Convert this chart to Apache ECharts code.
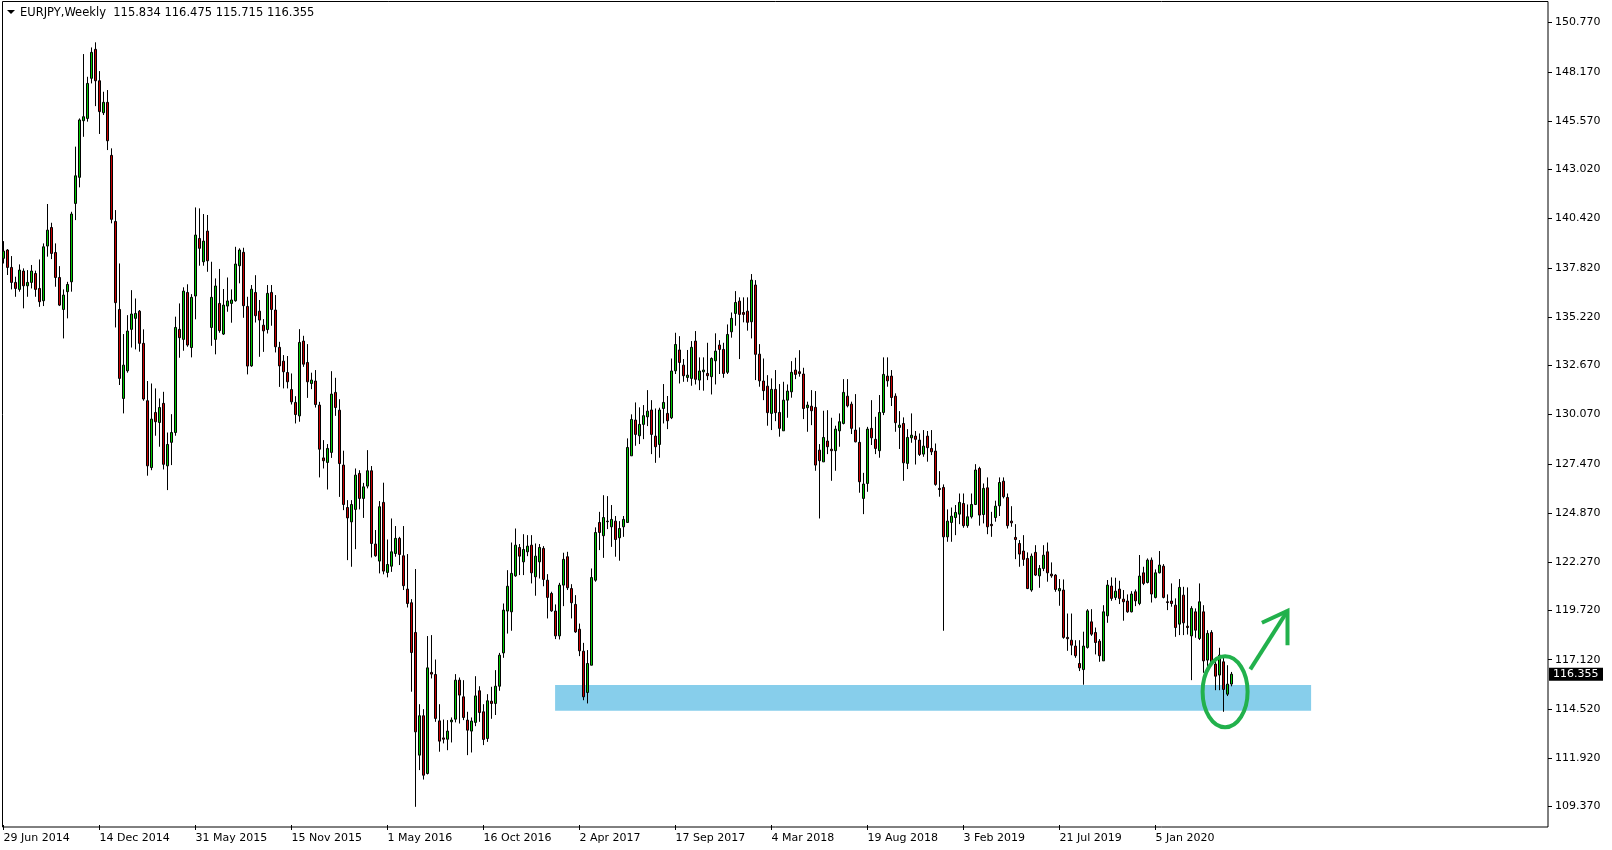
<!DOCTYPE html>
<html><head><meta charset="utf-8">
<script src="https://cdn.jsdelivr.net/npm/echarts@6/dist/echarts.min.js"></script>
<style>html,body{margin:0;padding:0;background:#fff;}#c{width:1612px;height:850px;}</style>
</head><body><div id="c"></div>
<script>
const symbolName = 'EURJPY';
const timeframe = 'Weekly';
const firstWeek = '2014-06-29';
const totalSlots = 386;
const xLabelEvery = 24;

const opens = [138.32,138.76,137.84,137.05,136.68,137.65,136.87,137.05,137.52,136.73,136.08,138.97,139.95,138.63,137.31,135.62,136.56,137.08,141.22,142.60,
145.59,145.71,147.83,149.36,147.70,146.01,146.56,143.76,140.27,135.62,130.92,132.38,134.57,135.15,135.53,133.83,130.80,127.27,130.18,129.65,
130.66,127.36,128.60,129.12,134.57,134.04,136.52,133.61,136.33,139.37,138.14,139.76,134.67,134.04,135.94,134.32,135.80,135.94,136.08,137.93,
138.64,135.78,132.64,136.52,135.53,134.79,134.56,136.52,135.59,133.62,132.89,132.29,131.39,130.71,130.00,133.95,132.82,131.71,131.84,130.57,
127.78,127.54,128.07,131.24,130.30,127.40,125.16,124.40,125.06,126.96,125.64,126.29,127.10,123.23,122.33,125.43,121.73,122.06,122.73,123.53,
122.61,120.85,120.13,118.56,112.08,114.16,111.11,116.45,116.34,113.89,112.99,112.92,113.84,113.98,116.04,115.16,113.93,113.35,113.81,115.48,
114.37,112.96,114.93,114.81,115.72,117.48,119.69,119.65,121.55,123.05,122.29,122.82,123.17,121.50,122.29,123.00,121.32,120.62,119.69,118.38,
121.06,122.56,120.88,120.04,118.73,117.57,115.39,116.83,121.32,124.37,123.67,124.41,124.14,124.44,123.56,124.14,124.37,127.89,129.78,128.95,
129.55,129.95,130.31,128.93,128.49,130.39,130.13,129.90,132.38,133.48,132.68,132.03,131.98,133.95,131.89,132.33,132.24,132.07,132.91,133.74,
133.51,132.30,134.44,135.41,136.06,135.46,135.53,134.97,136.91,133.26,131.84,131.57,130.13,131.40,130.18,129.21,130.83,131.27,132.42,132.33,
132.21,130.43,130.51,130.45,128.19,127.57,128.67,128.24,128.16,129.21,129.60,131.04,130.62,129.25,128.60,125.64,126.43,129.34,128.76,128.16,
130.18,132.10,132.10,131.04,129.39,129.60,127.49,128.84,128.93,128.72,127.98,128.93,128.28,128.14,126.17,126.22,123.61,124.37,124.63,124.81,
125.37,124.20,124.67,125.32,127.22,124.79,126.20,124.27,124.63,125.25,126.55,125.69,124.44,123.58,123.26,122.86,122.47,120.80,122.79,121.55,
121.94,122.82,121.64,121.59,120.76,120.80,118.30,118.15,117.84,116.92,116.60,117.77,119.12,118.56,118.10,117.06,119.44,121.01,120.41,120.85,
120.32,120.22,119.65,120.71,120.09,121.71,121.20,122.38,120.41,121.71,122.06,120.18,120.22,120.00,119.00,120.53,118.89,118.38,119.65,118.24,
119.65,117.10,118.56,116.89,116.31,117.01,115.30,115.834];
const highs = [139.23,138.81,138.44,137.35,138.00,137.79,137.70,137.97,137.67,138.26,139.11,141.19,140.20,139.11,137.91,136.68,137.08,140.78,144.22,145.71,
149.11,147.91,149.46,149.73,148.21,147.12,147.21,144.13,140.87,138.05,134.32,135.32,136.64,136.20,135.59,134.57,131.84,131.71,131.45,130.92,
131.27,129.12,130.09,135.24,135.94,136.79,136.95,136.43,141.01,140.96,140.66,140.61,138.14,137.26,137.76,136.70,137.31,136.68,138.93,138.85,
138.88,136.29,136.91,137.43,136.12,135.11,136.91,136.91,136.38,133.91,133.21,133.16,132.24,131.04,134.58,134.23,133.79,132.28,132.42,130.74,
128.72,128.51,132.36,132.01,130.88,128.16,125.55,125.55,127.22,127.13,126.46,128.19,127.35,123.97,125.50,126.47,123.47,124.58,124.18,123.61,
124.18,122.70,120.32,121.91,114.77,114.51,118.37,118.42,117.13,114.77,113.96,113.93,114.07,116.36,116.18,116.04,114.37,114.07,116.25,115.72,
114.77,115.30,115.69,116.57,117.48,120.09,121.85,123.31,124.05,123.23,123.75,123.70,123.70,123.26,123.23,123.12,121.64,120.71,120.04,121.18,
122.77,122.82,121.11,120.53,119.03,118.01,117.63,121.94,124.11,124.93,125.81,125.76,125.29,124.71,124.44,124.71,128.81,130.08,130.71,130.45,
130.57,131.36,130.83,130.39,130.43,131.68,131.05,133.03,134.39,134.21,133.00,133.48,133.95,134.48,133.09,133.09,133.86,133.09,134.36,134.00,
133.86,134.83,135.46,136.59,136.26,136.26,136.26,137.49,137.17,133.79,133.03,132.15,131.98,132.42,131.68,131.80,131.66,132.89,133.07,133.47,
132.54,130.75,131.36,131.31,128.51,130.27,130.30,129.90,129.48,130.13,131.94,131.94,130.75,131.15,129.39,126.99,129.42,130.83,129.95,131.10,
133.09,133.09,132.42,131.19,130.25,129.92,129.30,130.13,129.20,129.07,129.25,129.20,129.25,128.54,127.08,126.38,125.06,125.16,125.29,125.90,
125.90,125.32,125.90,127.45,127.31,126.43,126.75,124.93,125.52,126.75,126.75,125.90,125.23,124.28,123.44,123.70,122.79,122.73,123.17,122.12,
123.17,123.31,122.26,121.64,121.38,121.36,119.56,119.56,118.15,118.15,118.60,119.79,119.79,118.82,118.21,120.00,121.33,121.47,121.45,121.29,
120.80,120.57,120.74,120.83,122.65,122.03,122.47,122.52,121.89,122.86,122.17,120.57,121.15,120.36,121.38,120.97,120.94,119.95,119.83,121.15,
120.00,118.68,118.68,117.22,117.75,117.27,116.83,116.475];
const lows = [138.05,137.44,136.68,136.29,136.56,135.68,136.29,136.73,136.29,135.76,135.80,138.41,138.28,136.82,135.80,134.09,135.15,136.56,140.34,142.07,
144.74,145.54,147.56,146.36,144.89,145.89,144.04,140.17,134.67,131.63,130.13,132.28,133.61,133.51,133.39,130.80,126.84,127.13,128.95,128.37,
127.17,126.08,127.40,128.95,133.07,133.44,133.65,133.09,135.10,137.93,137.93,137.61,133.70,133.25,134.39,134.27,135.50,134.92,136.03,137.00,
135.18,132.19,132.59,134.93,133.12,133.38,134.35,134.76,133.35,131.53,131.45,131.45,130.60,129.60,129.69,132.59,130.95,131.41,130.44,126.75,
127.22,126.11,127.78,130.00,125.72,125.02,122.38,122.03,122.96,125.06,124.61,126.17,122.52,122.56,121.68,121.63,121.47,121.76,122.56,122.12,
120.80,119.88,115.43,109.35,111.29,110.79,111.06,116.13,113.84,112.26,112.70,112.34,112.75,113.81,113.75,113.93,112.08,112.22,113.61,113.84,
112.61,112.78,114.00,114.20,115.48,117.22,118.50,118.65,121.50,121.59,121.59,122.59,121.15,120.50,121.41,121.00,119.30,119.65,118.21,118.19,
119.95,120.80,119.30,118.54,117.31,114.98,114.81,116.83,121.24,122.91,122.50,124.02,123.08,122.56,122.35,123.61,124.37,127.89,128.42,128.51,
128.77,129.46,127.98,127.52,127.79,129.60,129.30,129.83,132.21,131.71,131.80,131.80,131.59,131.66,131.36,131.33,131.89,131.13,131.66,132.21,
132.01,132.21,134.13,134.76,133.00,134.94,134.50,134.09,131.89,131.54,130.83,129.48,129.25,129.72,128.90,129.21,129.90,130.96,131.94,132.07,
129.83,129.16,129.51,127.10,124.58,127.57,127.98,126.57,127.10,128.37,129.55,130.45,129.04,128.60,125.94,124.81,125.99,128.46,127.98,127.79,
130.04,131.54,130.52,129.16,128.25,126.57,127.19,128.58,127.43,127.88,127.84,127.58,127.93,126.31,125.73,118.65,123.35,123.35,123.70,124.28,
124.09,124.09,124.58,125.29,124.20,124.32,123.75,123.61,124.41,124.71,125.64,124.05,124.14,122.43,122.03,122.08,120.85,120.71,121.54,120.92,
121.80,121.24,121.45,120.71,119.97,118.23,117.59,117.36,117.22,116.52,115.80,117.71,118.38,117.40,117.01,117.06,119.07,120.23,120.27,120.06,
119.18,119.60,119.62,119.95,120.00,121.06,121.15,120.14,120.36,121.68,120.36,119.74,119.92,118.33,118.42,118.42,118.45,116.04,118.28,118.16,
116.43,116.75,116.83,115.51,115.51,114.37,115.20,115.715];
const closes = [138.70,137.84,137.05,136.73,137.70,136.87,137.05,137.65,136.68,136.03,138.93,139.81,138.58,137.31,135.85,136.38,136.94,140.66,142.68,145.63,
145.80,147.56,149.20,147.70,146.07,146.56,144.53,140.38,135.98,131.98,132.68,134.48,135.38,135.41,133.83,130.89,127.36,129.83,129.69,130.44,
127.44,128.49,129.12,134.67,134.13,136.59,133.74,136.26,139.55,138.85,139.23,138.19,136.26,136.86,134.50,135.85,136.07,136.12,138.02,138.76,
135.82,132.63,136.69,135.29,135.06,134.49,136.47,135.62,133.65,132.64,132.33,131.80,130.74,130.07,133.88,132.73,131.80,131.89,130.60,128.24,
127.63,128.28,131.15,130.44,127.48,125.32,124.61,125.32,126.87,125.64,126.25,127.10,123.26,122.61,125.20,121.80,122.15,122.82,123.53,122.68,
121.03,120.09,117.50,113.31,114.16,111.02,116.69,116.36,114.02,112.82,112.92,113.35,113.93,116.04,115.25,114.07,113.40,113.88,115.21,114.33,
112.91,114.95,114.81,115.72,117.36,119.74,121.00,121.68,123.17,122.59,122.94,123.12,121.71,122.59,123.05,121.36,120.41,119.70,118.38,121.06,
122.42,120.92,120.13,118.59,117.59,115.16,116.92,121.46,123.84,123.84,124.63,124.44,124.53,123.47,124.05,124.53,128.33,129.81,129.02,129.55,
130.01,130.25,129.02,128.37,130.31,130.71,129.74,132.37,133.77,132.82,132.12,132.15,133.62,131.93,132.37,132.42,132.12,133.03,133.42,133.51,
132.24,134.30,135.15,135.99,135.36,135.36,134.94,137.17,133.25,131.85,131.33,130.17,131.40,130.17,129.34,130.83,131.31,132.30,132.19,132.24,
130.39,130.57,130.27,127.40,127.63,128.86,128.37,128.16,129.30,129.69,131.24,130.53,129.34,128.63,126.52,126.40,129.30,128.84,128.28,130.18,
132.19,131.85,130.97,129.64,129.51,127.52,128.86,128.98,128.76,127.96,128.40,128.32,128.10,126.38,126.11,123.61,124.44,124.70,124.90,125.43,
124.20,124.67,125.32,127.14,124.76,126.17,124.14,124.20,125.23,126.48,125.73,124.20,124.35,123.47,122.70,122.42,120.88,122.59,121.59,121.94,
122.64,121.71,121.55,120.83,120.88,118.30,118.23,117.89,117.33,116.69,117.84,119.70,118.47,118.03,117.33,119.65,121.06,120.36,120.74,120.36,
120.18,119.65,120.59,120.23,121.54,121.15,122.38,120.59,121.71,122.12,120.41,120.14,120.09,118.82,120.94,119.07,118.82,119.83,118.68,120.18,
117.06,118.51,117.01,116.25,117.36,115.55,115.83,116.355];

const yTickLabels = [109.370,111.920,114.520,117.120,119.720,122.270,124.870,127.470,130.070,132.670,135.220,137.820,140.420,143.020,145.570,148.170,150.770];

// annotations (category index, price)
const zoneBox = {fromIdx: 137.9, toIdx: 326.9, top: 115.78, bottom: 114.42};
const circleMark = {idx: 305.4, price: 115.43};
const arrowMark = {from: [311.7, 116.61], tip: [321.0, 119.70], headLeft: [314.6, 119.07], headDown: [321.0, 117.89]};

const MONTHS = ['Jan','Feb','Mar','Apr','May','Jun','Jul','Aug','Sep','Oct','Nov','Dec'];
const categories = [];
const t0 = Date.parse(firstWeek + 'T00:00:00Z');
for (let i = 0; i < totalSlots; i++) {
  const d = new Date(t0 + i * 7 * 86400000);
  categories.push(d.getUTCDate() + ' ' + MONTHS[d.getUTCMonth()] + ' ' + d.getUTCFullYear());
}
const ohlc = [];
for (let i = 0; i < totalSlots; i++) {
  if (i < opens.length) ohlc.push([opens[i], closes[i], lows[i], highs[i]]);
  else ohlc.push('-');
}
const nBars = opens.length;
const FONT = 'DejaVu Sans';

const chart = echarts.init(document.getElementById('c'), null, {renderer: 'canvas'});
chart.setOption({
  animation: false,
  backgroundColor: '#ffffff',
  grid: {left: 1.5, top: 2, width: totalSlots * 4, height: 823, show: false},
  xAxis: {
    type: 'category', data: categories, boundaryGap: true,
    axisLine: {show: false},
    axisTick: {show: true, alignWithLabel: true, length: 5, lineStyle: {color: '#000'},
      interval: (i) => i % xLabelEvery === 0 && i < nBars},
    axisLabel: {show: true, align: 'left', margin: 8, color: '#000', fontFamily: FONT, fontSize: 11,
      interval: (i) => i % xLabelEvery === 0 && i < nBars},
    splitLine: {show: false}
  },
  yAxis: {
    type: 'value', position: 'right', offset: 2.5, min: 108.39, max: 151.86, scale: true,
    axisLine: {show: false},
    axisTick: {show: true, length: 4, lineStyle: {color: '#000'}, customValues: yTickLabels},
    axisLabel: {show: true, margin: 7, color: '#000', fontFamily: FONT, fontSize: 11, padding: [3, 0, 0, 0],
      customValues: yTickLabels, formatter: (v) => v.toFixed(3)},
    splitLine: {show: false}
  },
  series: [{
    type: 'candlestick', data: ohlc, barWidth: 2,
    itemStyle: {color: '#00c800', color0: '#c80000', borderColor: '#000', borderColor0: '#000', borderWidth: 1}
  }]
});

function px(idx, price) {
  const a = chart.convertToPixel({gridIndex: 0}, [0, price]);
  const b = chart.convertToPixel({gridIndex: 0}, [1, price]);
  return [a[0] + (b[0] - a[0]) * idx, a[1]];
}
const zA = px(zoneBox.fromIdx, zoneBox.top), zB = px(zoneBox.toIdx, zoneBox.bottom);
const cC = px(circleMark.idx, circleMark.price);
const aF = px(arrowMark.from[0], arrowMark.from[1]);
const aT = px(arrowMark.tip[0], arrowMark.tip[1]);
const aL = px(arrowMark.headLeft[0], arrowMark.headLeft[1]);
const aD = px(arrowMark.headDown[0], arrowMark.headDown[1]);
const last = nBars - 1;
const lastY = px(last, closes[last])[1];
const header = symbolName + ',' + timeframe + '  ' + [opens[last], highs[last], lows[last], closes[last]].map(v => v.toFixed(3)).join(' ');
const GREEN = '#22b14c';

chart.setOption({
  graphic: [
    {type: 'rect', z: -10, silent: true, shape: {x: zA[0], y: zA[1], width: zB[0] - zA[0], height: zB[1] - zA[1]}, style: {fill: '#87ceeb'}},
    {type: 'rect', z: 50, silent: true, shape: {x: 2.5, y: 1.5, width: 1545.5, height: 825.5}, style: {fill: null, stroke: '#000', lineWidth: 1}},
    {type: 'ellipse', z: 60, silent: true, shape: {cx: cC[0], cy: cC[1], rx: 22.5, ry: 35.5}, style: {fill: null, stroke: GREEN, lineWidth: 4}},
    {type: 'polyline', z: 60, silent: true, shape: {points: [aF, aT]}, style: {stroke: GREEN, lineWidth: 4, fill: null}},
    {type: 'polyline', z: 60, silent: true, shape: {points: [aL, aT, aD]}, style: {stroke: GREEN, lineWidth: 4, fill: null}},
    {type: 'rect', z: 60, silent: true, shape: {x: 1549, y: lastY - 6.5, width: 54, height: 13}, style: {fill: '#000'}},
    {type: 'text', z: 61, silent: true, x: 1553, y: lastY, style: {text: closes[last].toFixed(3), fill: '#fff', font: '11px "DejaVu Sans"', verticalAlign: 'middle'}},
    {type: 'polygon', z: 61, silent: true, shape: {points: [[7, 10], [15, 10], [11, 14]]}, style: {fill: '#000'}},
    {type: 'text', z: 61, silent: true, x: 20, y: 13, style: {text: header, fill: '#000', font: '11.5px "DejaVu Sans"', verticalAlign: 'middle'}}
  ]
});
</script>
</body></html>
